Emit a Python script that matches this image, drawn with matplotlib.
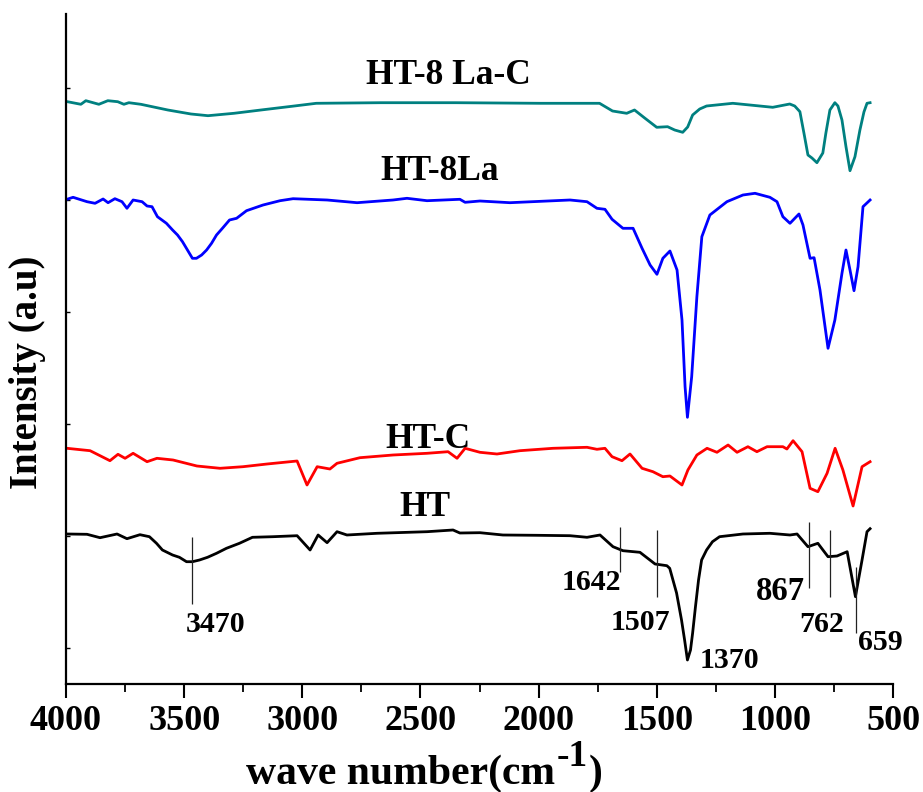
import matplotlib
matplotlib.use('Agg')
import matplotlib.pyplot as plt
from matplotlib.ticker import MultipleLocator

# ---------------- data ----------------
ht_wn = [3996, 3911, 3856, 3784, 3742, 3687, 3647, 3617, 3592, 3549, 3520, 3490, 3465, 3435,
         3401, 3363, 3321, 3266, 3211, 3124, 3022, 2967, 2933, 2895, 2853, 2811, 2684, 2472,
         2362, 2333, 2248, 2151, 2007, 1867, 1795, 1740, 1685, 1643, 1571, 1507, 1457, 1445,
         1416, 1395, 1382, 1370, 1357, 1348, 1336, 1323, 1310, 1289, 1264, 1234, 1135, 1021,
         936, 906, 860, 818, 775, 737, 694, 659, 631, 610, 597]
ht_int = [150, 149.7, 146.3, 150, 145.3, 149.3, 147.3, 140.7, 134, 129, 126.7, 122.3, 122.3, 124,
          126.7, 130.7, 135.7, 140.7, 146.7, 147.3, 148.3, 134, 149, 141.3, 152.3, 149, 150.7, 152.3,
          154, 151, 151.3, 149, 148.7, 148.3, 146.7, 149, 137.3, 133.3, 131.7, 120, 118.3, 115.7,
          91, 64, 44, 24, 34, 51, 77.3, 104, 124, 134, 142.3, 147.3, 150, 150.7,
          149, 150, 137.3, 140.7, 127.3, 128, 132.3, 87.3, 124, 152.3, 155.3]

htc_wn = [3996, 3898, 3814, 3780, 3750, 3716, 3657, 3615, 3547, 3446, 3348, 3251, 3149, 3022,
          2980, 2937, 2883, 2853, 2756, 2616, 2472, 2383, 2345, 2311, 2248, 2176, 2079, 1939,
          1795, 1753, 1719, 1689, 1647, 1613, 1562, 1516, 1474, 1444, 1393, 1368, 1330, 1287,
          1245, 1198, 1160, 1114, 1076, 1033, 966, 949, 923, 885, 851, 818, 779, 745, 712,
          669, 631, 597]
htc_int = [235.7, 233.3, 223.3, 229.7, 225.7, 230.7, 222.3, 225.7, 224, 218, 215.7, 217.3, 220, 223,
           199, 217.3, 215, 220.7, 226.3, 229, 230.7, 232.3, 225.7, 235.7, 231.7, 230, 233.3, 235.7,
           236.7, 234.7, 235.7, 227.3, 223.3, 230, 215.7, 212.3, 207.3, 208, 199, 214, 229, 235.7,
           231.7, 239, 231.7, 237.3, 232.3, 237.3, 237.3, 235, 243.3, 232.3, 195.7, 192.3, 210.7, 235.7, 214,
           178, 217.3, 222.3]

ht8la_wn = [3996, 3970, 3911, 3877, 3843, 3822, 3793, 3763, 3742, 3716, 3678, 3657, 3636, 3613,
            3575, 3549, 3528, 3507, 3486, 3465, 3448, 3426, 3405, 3384, 3363, 3338, 3308, 3278,
            3236, 3166, 3094, 3039, 2895, 2768, 2616, 2557, 2472, 2333, 2311, 2248, 2121, 1867,
            1795, 1753, 1719, 1689, 1643, 1600, 1562, 1528, 1499, 1474, 1444, 1414, 1393, 1380,
            1370, 1352, 1330, 1309, 1275, 1203, 1135, 1084, 1021, 991, 966, 936, 898, 881, 851,
            834, 809, 775, 746, 716, 699, 682, 665, 648, 627, 597]
ht8la_int = [484.7, 486.7, 482.3, 480.7, 485, 481.3, 485.3, 482.3, 475.7, 484, 482.3, 478, 477.3, 467.3,
             460.7, 454, 449, 442.3, 434, 425.7, 425.7, 429, 434, 440.7, 449, 455.7, 464, 465.7,
             473.3, 479, 483.3, 485.3, 484, 481.3, 484, 485.7, 483.3, 484.7, 481.7, 483, 481.3, 484,
             482.3, 475.7, 474.7, 464.7, 455.7, 455.7, 435.7, 419, 409.7, 425.7, 433, 414, 364, 297.3,
             266.7, 307.3, 387.3, 447.3, 469, 482.3, 489, 490.7, 486.7, 482.3, 467.3, 460.7, 470, 459, 425.7,
             426.3, 394, 335.7, 364, 410.7, 434, 414, 393.3, 417.3, 477.3, 484]

ht8lac_wn = [3994, 3937, 3916, 3861, 3823, 3781, 3755, 3734, 3683, 3569, 3471, 3399, 3289, 3175,
             3034, 2941, 2668, 2351, 1992, 1742, 1687, 1627, 1594, 1551, 1500, 1454, 1424, 1390,
             1369, 1348, 1318, 1289, 1178, 1009, 937, 916, 894, 877, 860, 843, 822, 797, 784, 767,
             746, 733, 716, 699, 682, 661, 640, 623, 610, 597]
ht8lac_int = [582.3, 579.7, 583.3, 579.7, 583.3, 582.3, 579.7, 581.3, 579.7, 574, 570, 568.3, 570.7, 574,
              578, 580.7, 581.3, 581.3, 580.7, 580.7, 573, 570.7, 574, 566, 556.7, 557.3, 554, 551.7,
              557, 569, 575, 578, 580.7, 576.7, 580, 578, 572.3, 551, 529, 526, 521.3, 531, 551, 574,
              581.3, 578, 564, 537.3, 513.3, 527.3, 554, 572, 580.7, 581.3]

series_names = ['HT', 'HT-C', 'HT-8La', 'HT-8 La-C']
series_colors = ['#000000', '#ff0000', '#0000ff', '#008080']

peak_labels = ['3470', '1642', '1507', '1370', '867', '762', '659']
marker_wn = [3466, 1654, 1499, 857, 767, 658]
marker_lo = [80, 112, 87, 96, 87, 51]
marker_hi = [147, 157, 154, 162, 154, 117]

xticks = [4000, 3500, 3000, 2500, 2000, 1500, 1000, 500]
yticks = [36, 148, 260, 372, 484, 596]

# ---------------- style ----------------
plt.rcParams['font.family'] = ['Liberation Serif', 'DejaVu Serif']
plt.rcParams['font.weight'] = 'bold'

W, H = 923, 792
fig = plt.figure(figsize=(W / 100, H / 100), dpi=100)
ax = fig.add_axes([66 / W, 1 - 684 / H, (893 - 66) / W, (684 - 14) / H])


def fx(px):
    return px / W


def fy(py):
    return 1 - py / H


xs = [ht_wn, htc_wn, ht8la_wn, ht8lac_wn]
ys = [ht_int, htc_int, ht8la_int, ht8lac_int]
for x, y, c in zip(xs, ys, series_colors):
    ax.plot(x, y, color=c, lw=2.0, solid_joinstyle='round')

ax.vlines(marker_wn, marker_lo, marker_hi, colors='#222222', lw=0.9)

ax.set_xlim(4000, 500)
ax.set_ylim(0, 670)
ax.set_xticks(xticks)
ax.xaxis.set_minor_locator(MultipleLocator(250))
ax.set_yticks(yticks)
ax.tick_params(axis='x', which='major', direction='out', length=10, width=1.5,
               labelsize=26, pad=5)
ax.tick_params(axis='x', which='minor', direction='out', length=5.5, width=1.3)
ax.tick_params(axis='y', which='major', direction='in', length=3, width=1.0,
               labelleft=False)
for lab in ax.get_xticklabels():
    lab.set_fontweight('bold')

for s in ['top', 'right']:
    ax.spines[s].set_visible(False)
for s in ['left', 'bottom']:
    ax.spines[s].set_linewidth(1.6)

# curve names
name_pos = [(425, 507), (428, 440), (440, 171), (448, 75)]
for name, (px, py) in zip(series_names, name_pos):
    fig.text(fx(px), fy(py), name, fontsize=25.5, fontweight='bold',
             ha='center', va='center')

# peak labels
peak_pos = [(216, 624, 21.5), (591, 583, 21.5), (640, 622, 21.5), (729, 660, 21.5),
            (780, 592, 23.5), (822, 625, 21.5), (880, 643, 21.5)]
for t, (px, py, fs) in zip(peak_labels, peak_pos):
    fig.text(fx(px), fy(py), t, fontsize=fs, fontweight='bold', ha='center', va='center')

# x label: "wave number(cm" + raised "-1" + ")"
renderer = fig.canvas.get_renderer()
t_main = fig.text(fx(246), fy(784), 'wave number(cm', fontsize=30, fontweight='bold',
                  ha='left', va='baseline')
bb = t_main.get_window_extent(renderer)
t_sup = fig.text(bb.x1 / W + 1 / W, fy(766), '-1', fontsize=27, fontweight='bold',
                 ha='left', va='baseline')
bb2 = t_sup.get_window_extent(renderer)
fig.text(bb2.x1 / W + 1 / W, fy(784), ')', fontsize=30, fontweight='bold',
         ha='left', va='baseline')

fig.text(fx(28), fy(372), 'Intensity (a.u)', fontsize=28, fontweight='bold',
         rotation=90, ha='center', va='center')

fig.savefig('out.png', dpi=100)
